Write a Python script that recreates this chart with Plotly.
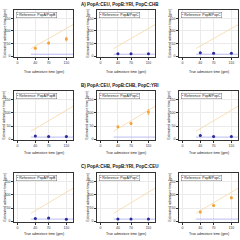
import plotly.graph_objects as go

true_times = [40, 70, 110]
row_titles = ["A) PopA:CEU, PopB:YRI, PopC:CHB",
              "B) PopA:CEU, PopB:CHB, PopC:YRI",
              "C) PopA:CHB, PopB:YRI, PopC:CEU"]
legend_labels = ["Reference: PopA/PopB", "Reference: PopA/PopC", "Reference: PopB/PopC"]

# estimates per row (rows A,B,C) and panel (1..3)
est_A = [[32, 52, 68], [10, 10, 10], [14, 12, 12]]
est_B = [[12, 10, 10], [47, 60, 103], [14, 10, 10]]
est_C = [[10, 12, 7], [8, 8, 8], [35, 60, 89]]
err_A = [[3, 4, 7], [1, 1, 1], [1, 1, 1]]
err_B = [[1, 1, 1], [3, 4, 9], [1, 1, 1]]
err_C = [[1, 1, 1], [1, 1, 1], [3, 3, 4]]
match_panel = [0, 1, 2]  # panel where reference matches (orange)
diag_x = [30, 125]
base_level = 8

x_ticks = [0, 40, 70, 110]
y_ticks = [0, 50, 100, 150]

ests = [est_A, est_B, est_C]
errs = [err_A, err_B, err_C]

W = H = 240.0
col_px = [(14, 73), (97, 155), (179, 238)]
row_px = [(10, 57), (91, 140), (173, 222)]
title_y = [4, 85, 166]
xtitle_y = [72, 153, 234]

ORANGE = "#F2A33A"
ORANGE_LIGHT = "#F8D7A6"
NAVY = "#2B2B9B"
LAV = "#A8A8EE"

fig = go.Figure()
anns = []
for r in range(3):
    for c in range(3):
        k = r * 3 + c + 1
        xa = "x" if k == 1 else f"x{k}"
        ya = "y" if k == 1 else f"y{k}"
        xl = "xaxis" if k == 1 else f"xaxis{k}"
        yl = "yaxis" if k == 1 else f"yaxis{k}"
        x0, x1 = col_px[c]
        y0, y1 = row_px[r]
        fig.layout[xl] = dict(domain=[x0 / W, x1 / W], anchor=ya, range=[-8, 125],
                               tickvals=x_ticks, ticktext=[str(v) for v in x_ticks],
                               showline=True, linecolor="#333", linewidth=0.6, mirror=True,
                               ticks="outside", ticklen=2, tickwidth=0.5, tickcolor="#333",
                               tickfont=dict(size=3.5, color="#333", family="Liberation Sans"),
                               showgrid=True, gridcolor="#EBEBEB", gridwidth=0.4, zeroline=False,
                               fixedrange=True)
        fig.layout[yl] = dict(domain=[1 - y1 / H, 1 - y0 / H], anchor=xa, range=[-3, 183],
                               tickvals=y_ticks, ticktext=[str(v) for v in y_ticks],
                               showline=True, linecolor="#333", linewidth=0.6, mirror=True,
                               ticks="outside", ticklen=2, tickwidth=0.5, tickcolor="#333",
                               tickfont=dict(size=3.5, color="#333", family="Liberation Sans"),
                               showgrid=True, gridcolor="#EBEBEB", gridwidth=0.4, zeroline=False,
                               fixedrange=True)
        # diagonal y = x
        fig.add_trace(go.Scatter(x=diag_x, y=diag_x, mode="lines", xaxis=xa, yaxis=ya,
                                 line=dict(color=ORANGE_LIGHT, width=0.8), showlegend=False))
        # baseline
        fig.add_trace(go.Scatter(x=diag_x, y=[base_level, base_level], mode="lines", xaxis=xa, yaxis=ya,
                                 line=dict(color=LAV, width=0.8), showlegend=False))
        col = ORANGE if match_panel[r] == c else NAVY
        fig.add_trace(go.Scatter(x=true_times, y=ests[r][c], mode="markers", xaxis=xa, yaxis=ya,
                                 marker=dict(color=col, size=3),
                                 error_y=dict(type="data", array=errs[r][c], color=col,
                                              thickness=0.6, width=1),
                                 showlegend=False))
        # legend box
        anns.append(dict(text=f"<span style='color:{NAVY}'>•</span> {legend_labels[c]}",
                         x=(x0 + 2) / W, y=1 - (y0 + 2) / H, xref="paper", yref="paper",
                         xanchor="left", yanchor="top", showarrow=False,
                         font=dict(size=3.5, color="#222", family="Liberation Sans"),
                         bordercolor="#555", borderwidth=0.4, borderpad=0.6, bgcolor="white"))
        # axis titles
        anns.append(dict(text="True admixture time (gen)", x=(x0 + x1) / 2 / W, y=1 - xtitle_y[r] / H,
                         xref="paper", yref="paper", showarrow=False, xanchor="center", yanchor="middle",
                         font=dict(size=3.5, color="#222", family="Liberation Sans")))
        anns.append(dict(text="Estimated admixture time (gen)", x=(x0 - 10) / W, y=1 - (y0 + y1) / 2 / H,
                         xref="paper", yref="paper", showarrow=False, textangle=-90,
                         xanchor="center", yanchor="middle",
                         font=dict(size=3.5, color="#222", family="Liberation Sans")))
    anns.append(dict(text=f"<b>{row_titles[r]}</b>", x=0.5, y=1 - title_y[r] / H, xref="paper", yref="paper",
                     showarrow=False, xanchor="center", yanchor="middle",
                     font=dict(size=4.5, color="#111", family="Liberation Sans")))

fig.update_layout(width=240, height=240, margin=dict(l=0, r=0, t=0, b=0),
                  paper_bgcolor="white", plot_bgcolor="white", annotations=anns, showlegend=False)
fig.write_html("out.html")
